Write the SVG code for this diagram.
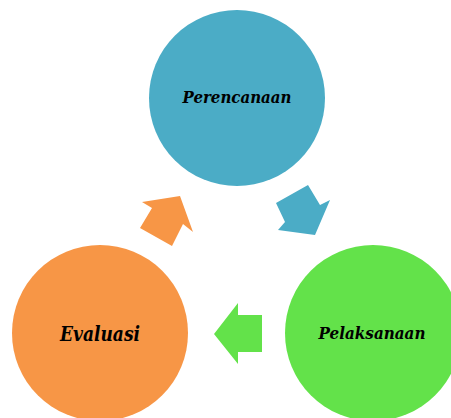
<svg xmlns="http://www.w3.org/2000/svg" width="451" height="418" viewBox="0 0 451 418">
<style>
text{font-family:"DejaVu Serif","Liberation Serif",serif;font-weight:bold;font-style:italic;fill:#000;text-anchor:middle}
</style>
<rect width="451" height="418" fill="#fff"/>
<g id="connectors">
<polygon fill="#4BACC6" points="308,185 320,205 330,200 315,235 278,230 285,222 276,203"/>
<polygon fill="#63E24A" points="214,334 238,303 238,315 262,315 262,352 238,352 238,364"/>
<polygon fill="#F79646" points="180,196 142,202 152,208 140,228 172,246 183,224 193,232"/>
</g>
<g id="perencanaan">
<circle cx="237" cy="98" r="88" fill="#4BACC6"/>
<text x="237" y="103" font-size="16" textLength="109" lengthAdjust="spacingAndGlyphs">Perencanaan</text>
</g>
<g id="pelaksanaan">
<circle cx="373" cy="333" r="88" fill="#63E24A"/>
<text x="372" y="339" font-size="17" textLength="107" lengthAdjust="spacingAndGlyphs">Pelaksanaan</text>
</g>
<g id="evaluasi">
<circle cx="100" cy="333" r="88" fill="#F79646"/>
<text x="100" y="341" font-size="20" textLength="80" lengthAdjust="spacingAndGlyphs">Evaluasi</text>
</g>
</svg>
